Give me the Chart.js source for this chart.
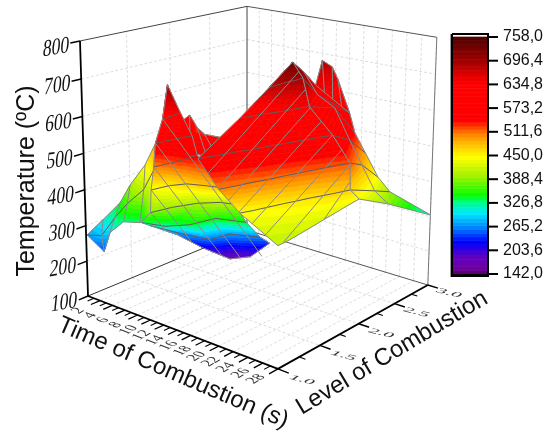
<!DOCTYPE html>
<html>
<head>
<meta charset="utf-8">
<script src="https://cdn.jsdelivr.net/npm/chart.js@4/dist/chart.umd.min.js"></script>
<style>
  html, body { margin: 0; padding: 0; background: #fff; }
  canvas { display: block; }
</style>
</head>
<body>
<canvas id="surfaceChart" width="555" height="435"></canvas>
<script>
// axis ticks
const timeTicks = [2, 4, 6, 8, 10, 12, 14, 16, 18, 20, 22, 24, 26, 28];
const timeMinorTicks = [1, 3, 5, 7, 9, 11, 13, 15, 17, 19, 21, 23, 25, 27];
const levelTicks = [1.0, 1.5, 2.0, 2.5, 3.0];
const levelMinorTicks = [1.25, 1.75, 2.25, 2.75];
const tempTicks = [100, 200, 300, 400, 500, 600, 700, 800];
const barTicks = [142, 203.6, 265.2, 326.8, 388.4, 450, 511.6, 573.2, 634.8, 696.4, 758];
const barTickLabels = ['142,0', '203,6', '265,2', '326,8', '388,4', '450,0', '511,6', '573,2', '634,8', '696,4', '758,0'];

// surface sheets: time, level, temperature per mesh node
const peakBackTime = [[15.8, 12.6, 13.9, 15.2, 20.5], [17.7, 18.3, 19.0, 19.8, 20.5]];
const peakBackLevel = [[2.55, 2.94, 2.96, 2.92, 2.57], [2.40, 2.44, 2.48, 2.53, 2.57]];
const peakBackTemp = [[650, 685, 670, 640, 590], [640, 628, 615, 602, 590]];

const ridgeTime = [[15.6, 15.7, 15.8], [17.4, 17.7, 20.5], [20.2, 18.8, 21.5], [23.5, 22.7, 22.8], [26.1, 25.1, 25.3], [27.7, 27.0, 26.0], [28.0, 27.5, 28.0]];
const ridgeLevel = [[2.26, 2.40, 2.55], [2.23, 2.40, 2.57], [2.06, 2.53, 2.55], [2.05, 2.36, 2.57], [2.03, 2.29, 2.50], [1.88, 2.28, 2.60], [1.97, 2.42, 3.00]];
const ridgeTemp = [[730, 695, 650], [695, 640, 590], [640, 600, 540], [580, 540, 490], [520, 490, 440], [470, 430, 395], [440, 385, 305]];

const humpTime = [[5.5, 3.2, 4.9, 8.0, 15.9], [14.4, 15.8, 18.5, 20.0, 21.0]];
const humpLevel = [[1.71, 1.99, 1.95, 1.80, 1.40], [1.02, 1.03, 1.00, 1.00, 1.15]];
const humpTemp = [[560, 550, 525, 530, 585], [570, 575, 580, 585, 585]];

const leftTime = [[0.2, 0.9, 1.7, 2.2, 3.4, 2.8], [0.2, 2.4, 2.7, 4.3, 5.8, 6.7], [0.2, 2.9, 3.7, 4.8, 6.4, 9.6]];
const leftLevel = [[1.00, 1.13, 1.27, 1.35, 1.44, 1.62], [1.00, 1.01, 1.14, 1.17, 1.25, 1.32], [1.00, 1.00, 1.01, 1.09, 1.16, 1.05]];
const leftTemp = [[275, 310, 350, 395, 450, 500], [275, 285, 325, 370, 410, 470], [275, 245, 300, 330, 330, 385]];

const faceTime = [
  [8.9, 8.9, 8.9, 8.9, 8.9],
  [10.0, 10.3, 10.7, 11.0, 11.3],
  [9.7, 10.5, 11.2, 12.0, 12.7],
  [9.8, 11.0, 12.2, 13.4, 14.6],
  [9.2, 11.0, 13.3, 15.7, 17.9],
  [9.6, 11.0, 12.6, 14.7, 15.9],
  [6.9, 8.9, 11.8, 13.4, 16.0],
  [5.9, 7.2, 10.2, 11.8, 14.5],
  [6.9, 8.4, 9.8, 12.2, 15.0]
];
const faceLevel = [
  [1.31, 1.31, 1.31, 1.31, 1.31],
  [1.17, 1.19, 1.22, 1.24, 1.27],
  [1.11, 1.15, 1.20, 1.24, 1.29],
  [1.08, 1.11, 1.14, 1.17, 1.20],
  [1.09, 1.16, 1.18, 1.21, 1.22],
  [1.05, 1.18, 1.35, 1.45, 1.52],
  [1.14, 1.26, 1.32, 1.50, 1.65],
  [1.31, 1.54, 1.68, 1.79, 1.95],
  [1.55, 1.74, 1.96, 2.02, 2.03]
];
const faceTemp = [
  [700, 700, 700, 700, 700],
  [625, 628, 632, 636, 640],
  [565, 570, 575, 580, 585],
  [505, 515, 525, 537, 550],
  [440, 455, 470, 475, 480],
  [385, 395, 400, 405, 400],
  [335, 325, 340, 350, 340],
  [305, 270, 255, 270, 262],
  [262, 215, 170, 185, 240]
];
// grey mesh lines across the face, start and end node
const faceStripeTime = [[10.0, 13.5], [9.7, 11.0], [9.8, 9.3], [9.2, 7.7], [9.6, 6.6]];
const faceStripeLevel = [[1.17, 2.06], [1.11, 1.99], [1.08, 1.89], [1.09, 1.65], [1.05, 1.43]];
const faceStripeTemp = [[625, 190], [565, 178], [505, 185], [440, 238], [385, 285]];

const mainTime = [
  [15.6, 15.6, 15.6, 15.6, 15.6, 15.6, 15.6, 15.6, 15.6],
  [15.6, 15.85, 16.1, 16.3, 16.5, 16.75, 17.0, 17.2, 17.4],
  [14.5, 15.2, 15.9, 16.6, 17.4, 18.1, 18.8, 19.5, 20.2],
  [16.9, 17.8, 18.6, 19.5, 20.3, 21.1, 21.9, 22.7, 23.5],
  [20.0, 20.8, 21.5, 22.3, 23.0, 23.8, 24.6, 25.3, 26.1],
  [21.6, 22.4, 23.1, 23.9, 24.7, 25.4, 26.2, 27.0, 27.7],
  [27.9, 28.0, 28.0, 28.0, 28.0, 28.0, 28.0, 28.0, 28.0]
];
const mainLevel = [
  [2.26, 2.26, 2.26, 2.26, 2.26, 2.26, 2.26, 2.26, 2.26],
  [1.97, 2.00, 2.03, 2.065, 2.10, 2.13, 2.16, 2.195, 2.23],
  [1.70, 1.745, 1.79, 1.835, 1.88, 1.925, 1.97, 2.015, 2.06],
  [1.03, 1.16, 1.29, 1.41, 1.54, 1.67, 1.80, 1.92, 2.05],
  [1.01, 1.14, 1.27, 1.39, 1.52, 1.65, 1.78, 1.90, 2.03],
  [1.11, 1.20, 1.30, 1.40, 1.50, 1.60, 1.69, 1.79, 1.88],
  [1.00, 1.12, 1.25, 1.37, 1.49, 1.61, 1.73, 1.85, 1.97]
];
const mainTemp = [
  [730, 730, 730, 730, 730, 730, 730, 730, 730],
  [680, 682, 684, 686, 688, 690, 691, 693, 695],
  [610, 614, 618, 622, 625, 629, 633, 637, 640],
  [565, 567, 569, 571, 573, 575, 577, 579, 580],
  [505, 507, 509, 511, 513, 515, 517, 519, 520],
  [445, 448, 451, 455, 458, 461, 464, 467, 470],
  [410, 413, 417, 421, 425, 429, 433, 437, 440]
];
const mainStripeTime = [[18.4, 16.7], [19.9, 18.5], [20.7, 20.3], [21.5, 21.9], [23.7, 23.5], [25.9, 24.9], [27.9, 26.2], [28.0, 27.2]];
const mainStripeLevel = [[1.02, 2.24], [1.01, 2.17], [1.06, 2.06], [1.11, 2.055], [1.07, 2.05], [1.03, 2.04], [1.06, 2.02], [1.53, 1.92]];
const mainStripeTemp = [[536, 709], [507, 674], [477, 638], [447, 609], [433, 580], [421, 549], [412, 518], [427, 484]];

// colours along the colour bar: value, r, g, b
const colorStops = [
  [142, 80, 0, 96], [157, 112, 0, 160], [186, 96, 0, 192], [226, 0, 0, 255], [262, 0, 128, 255],
  [300, 0, 232, 255], [330, 0, 255, 128], [346, 0, 255, 0], [395, 160, 240, 0], [446, 255, 255, 0],
  [480, 255, 192, 0], [507, 255, 128, 0], [541, 255, 0, 0], [634, 255, 0, 0], [660, 224, 0, 0],
  [696, 160, 0, 0], [758, 80, 0, 0]
];
const bandCount = 64;
const barMin = 142;
const barMax = 758;

function colorAt(value) {
  for (let i = 1; i < colorStops.length; i++) {
    if (value <= colorStops[i][0]) {
      const a = colorStops[i - 1], b = colorStops[i];
      const f = (value - a[0]) / (b[0] - a[0]);
      const c = [1, 2, 3].map(k => Math.round(a[k] + (b[k] - a[k]) * f));
      return 'rgb(' + c.join(',') + ')';
    }
  }
  return 'rgb(80,0,0)';
}

// perspective camera of the box, from its vanishing points
function project(time, level, temp) {
  const u = time / 28, v = (level - 1) / 2, w = (temp - 100) / 700;
  const d = 1 - 0.1174 * u + 0.1475 * v - 0.04835 * w;
  return {
    x: (88 + 157.3 * u + 195.4 * v - 11.87 * w) / d,
    y: (296 + 29.6 * u - 32 * v - 257 * w) / d
  };
}

const paintOrder = [];

function addLine(points, color, width, dash) {
  paintOrder.push({
    data: points, borderColor: color, borderWidth: width,
    borderDash: dash || [999, 0], // a dash list keeps line.js off its pixel-merging fast path
    pointRadius: 0, fill: false
  });
}

function addShape(points, color) {
  paintOrder.push({
    data: points.concat([points[0]]), borderColor: color, backgroundColor: color, borderWidth: 0.7,
    borderDash: [999, 0], pointRadius: 0, fill: 'shape'
  });
}

function edge(a, b, color, width, dash) {
  addLine([project(a[0], a[1], a[2]), project(b[0], b[1], b[2])], color, width, dash);
}

// cut a polygon at one temperature and keep the side above or below it
function clipPolygon(poly, limit, above) {
  const out = [];
  for (let i = 0; i < poly.length; i++) {
    const p = poly[i], q = poly[(i + 1) % poly.length];
    const pIn = above ? p.z >= limit : p.z <= limit;
    const qIn = above ? q.z >= limit : q.z <= limit;
    if (pIn) out.push(p);
    if (pIn !== qIn) {
      const f = (limit - p.z) / (q.z - p.z);
      out.push({ t: p.t + (q.t - p.t) * f, l: p.l + (q.l - p.l) * f, z: limit });
    }
  }
  return out;
}

function addTriangle(tri) {
  const step = (barMax - barMin) / bandCount;
  for (let b = 0; b < bandCount; b++) {
    const lo = barMin + b * step;
    let poly = clipPolygon(tri, b === 0 ? -1000 : lo, true);
    if (poly.length) poly = clipPolygon(poly, b === bandCount - 1 ? 9000 : lo + step, false);
    if (poly.length > 2) addShape(poly.map(p => project(p.t, p.l, p.z)), colorAt(lo + step / 2));
  }
}

// with stripes given, only the outer columns are drawn and the stripes stand in for the rest
function addSheet(times, levels, temps, stripes) {
  const node = (r, c) => ({ t: times[r][c], l: levels[r][c], z: temps[r][c] });
  const lastCol = times[0].length - 1;
  for (let r = 0; r < times.length - 1; r++) {
    for (let c = 0; c < lastCol; c++) {
      addTriangle([node(r, c), node(r, c + 1), node(r + 1, c)]);
      addTriangle([node(r, c + 1), node(r + 1, c + 1), node(r + 1, c)]);
    }
  }
  for (let r = 0; r < times.length; r++) {
    const border = r === 0 || r === times.length - 1;
    addLine(times[r].map((t, c) => project(t, levels[r][c], temps[r][c])), border ? '#8a8a8a' : '#5c5c5c', 1);
  }
  for (let c = 0; c <= lastCol; c++) {
    if (stripes && c !== 0 && c !== lastCol) continue;
    addLine(times.map((row, r) => project(times[r][c], levels[r][c], temps[r][c])), '#8a8a8a', 1);
  }
  if (stripes) {
    stripes.time.forEach((pair, i) => {
      edge([pair[0], stripes.level[i][0], stripes.temp[i][0]], [pair[1], stripes.level[i][1], stripes.temp[i][1]], '#8a8a8a', 1);
    });
  }
}

// walls and floor grid
const gridColor = '#d4d4d4';
const gridDash = [3, 2];
timeTicks.forEach(t => {
  edge([t, 3, 100], [t, 3, 800], gridColor, 0.8, gridDash);
  edge([t, 1, 100], [t, 3, 100], gridColor, 0.8, gridDash);
});
levelTicks.slice(1, 4).forEach(l => {
  edge([0, l, 100], [0, l, 800], gridColor, 0.8, gridDash);
  edge([0, l, 100], [28, l, 100], gridColor, 0.8, gridDash);
});
tempTicks.slice(1, 7).forEach(z => {
  edge([0, 1, z], [0, 3, z], gridColor, 0.8, gridDash);
  edge([0, 3, z], [28, 3, z], gridColor, 0.8, gridDash);
});

// back frame
edge([0, 1, 800], [0, 3, 800], '#444', 1);
edge([0, 3, 800], [28, 3, 800], '#555', 1);
edge([0, 3, 100], [0, 3, 800], '#444', 1);
edge([28, 3, 100], [28, 3, 800], '#777', 1);
edge([0, 1, 100], [0, 3, 100], '#333', 1);
edge([0, 3, 100], [28, 3, 100], '#555', 1);

// surface, far sheets first
addSheet(peakBackTime, peakBackLevel, peakBackTemp);
addSheet(ridgeTime, ridgeLevel, ridgeTemp);
addSheet(humpTime, humpLevel, humpTemp);
addSheet(leftTime, leftLevel, leftTemp);
addSheet(faceTime, faceLevel, faceTemp, { time: faceStripeTime, level: faceStripeLevel, temp: faceStripeTemp });
addSheet(mainTime, mainLevel, mainTemp, { time: mainStripeTime, level: mainStripeLevel, temp: mainStripeTemp });

// front axes
edge([0, 1, 100], [0, 1, 800], '#000', 1.8);
edge([0, 1, 100], [28, 1, 100], '#000', 1.8);
edge([28, 1, 100], [28, 3, 100], '#000', 1.8);
tempTicks.forEach(z => edge([0, 1, z], [0, 0.9, z], '#000', 1.4));
timeTicks.forEach(t => edge([t, 1, 100], [t, 0.9, 100], '#000', 1.3));
timeMinorTicks.forEach(t => edge([t, 1, 100], [t, 0.93, 100], '#000', 1.1));
levelTicks.forEach(l => edge([28, l, 100], [29.4, l, 100], '#000', 1.4));
levelMinorTicks.forEach(l => edge([28, l, 100], [28.8, l, 100], '#000', 1.1));

// colour bar
const barY = value => 274 - (value - barMin) * 237 / (barMax - barMin);
const barStep = (barMax - barMin) / bandCount;
for (let b = 0; b < bandCount; b++) {
  const lo = barMin + b * barStep;
  addShape([{ x: 453, y: barY(lo) }, { x: 487, y: barY(lo) }, { x: 487, y: barY(lo + barStep) }, { x: 453, y: barY(lo + barStep) }], colorAt(lo + barStep / 2));
}
addLine([{ x: 452, y: 34 }, { x: 488, y: 34 }, { x: 488, y: 276 }, { x: 452, y: 276 }, { x: 452, y: 34 }], '#000', 2);
addLine([{ x: 452, y: 275.5 }, { x: 488, y: 275.5 }], '#000', 3);
addLine([{ x: 450.5, y: 34 }, { x: 450.5, y: 277 }], '#9a9a9a', 1);
barTicks.forEach(v => addLine([{ x: 488, y: barY(v) }, { x: 498, y: barY(v) }], '#000', 2));

// axis text sits on the box planes, so it gets a skew as well as a position
const axisText = {
  id: 'axisText',
  afterDraw(chart) {
    const ctx = chart.ctx;
    const sx = chart.scales.x, sy = chart.scales.y;
    const put = (text, p, dx, dy, m, font, color) => {
      ctx.save();
      ctx.setTransform(m[0], m[1], m[2], m[3], sx.getPixelForValue(p.x) + dx, sy.getPixelForValue(p.y) + dy);
      ctx.font = font;
      ctx.fillStyle = color || '#111';
      ctx.textAlign = 'center';
      ctx.textBaseline = 'middle';
      ctx.fillText(text, 0, 0);
      ctx.restore();
    };
    const rot = deg => {
      const r = deg * Math.PI / 180;
      return [Math.cos(r), Math.sin(r), -Math.sin(r), Math.cos(r)];
    };
    tempTicks.forEach(z => put(String(z), project(0, 1, z), -24, 7, [0.88, -0.14, -0.12, 1.2], '20px "Liberation Serif"'));
    timeTicks.forEach(t => put(String(t), project(t, 1, 100), -22, 10, [0.72, -0.43, 0.85, 0.33], '17px "Liberation Serif"', '#333'));
    levelTicks.forEach(l => put(l.toFixed(1), project(28, l, 100), 24 - 1.5 * (l - 1), 11 - 1.5 * (l - 1), [1.4, 0.35, -0.55, 0.4], '14px "Liberation Serif"', '#333'));
    barTicks.forEach((v, i) => put(barTickLabels[i], { x: 523, y: barY(v) }, 0, 0, [1, 0, 0, 1], '16px "Liberation Sans"'));
    put('Temperature (ºC)', { x: 27, y: 181 }, 0, 0, rot(-90), '25px "Liberation Sans"');
    put('Time of Combustion (s)', { x: 173, y: 373 }, 0, 0, rot(23.3), '24px "Liberation Sans"');
    put('Level of Combustion', { x: 392, y: 353 }, 0, 0, rot(-31), '24px "Liberation Sans"');
  }
};

const ctx = document.getElementById('surfaceChart').getContext('2d');
new Chart(ctx, {
  type: 'line',
  // chart.js paints the last dataset first
  data: { datasets: paintOrder.slice().reverse() },
  options: {
    responsive: false,
    animation: false,
    events: [],
    layout: { padding: 0 },
    plugins: { legend: { display: false }, tooltip: { enabled: false } },
    scales: {
      x: { type: 'linear', min: 0, max: 555, display: false },
      y: { type: 'linear', min: 0, max: 435, reverse: true, display: false }
    }
  },
  plugins: [axisText]
});
</script>
</body>
</html>
